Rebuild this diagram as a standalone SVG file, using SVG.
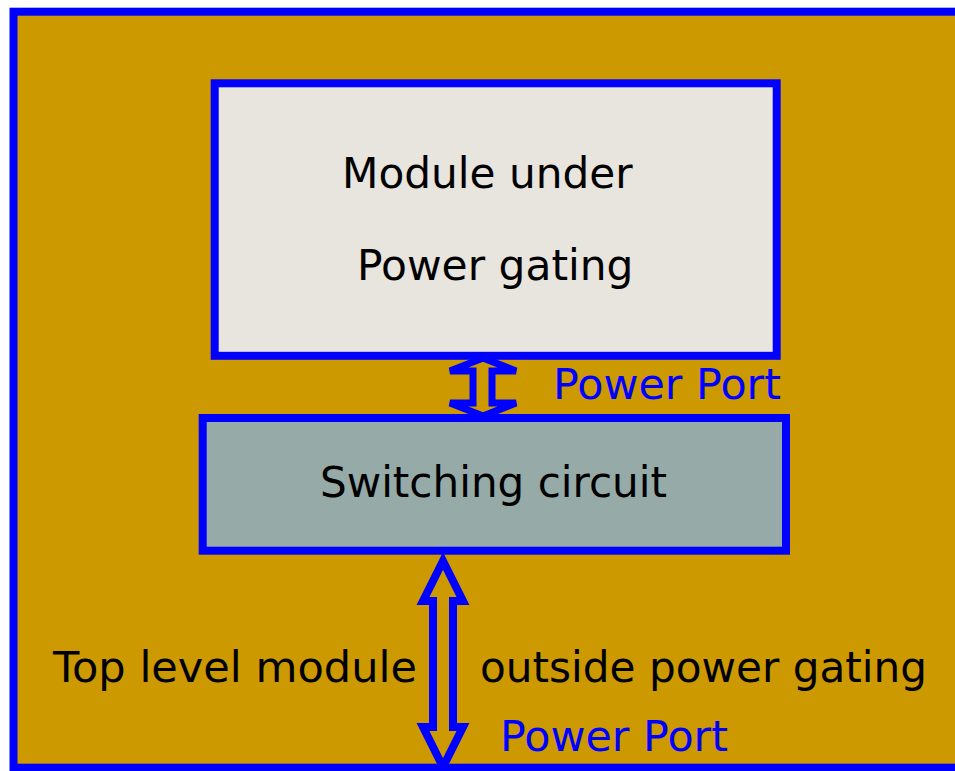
<svg xmlns="http://www.w3.org/2000/svg" width="955" height="771" viewBox="0 0 955 771">
<style>
.box{stroke:#0000FF;stroke-width:8}
.arrow{fill:#CC9900;stroke:#0000FF;stroke-linejoin:miter}
text{font-family:"DejaVu Sans","Verdana",sans-serif;font-size:42px;fill:#000000}
.port{fill:#0000FF}
</style>
<rect width="955" height="771" fill="#FFFFFF"/>
<g id="top-level">
<rect class="box" x="13.5" y="11.7" width="960" height="756" fill="#CC9900"/>
<text x="53" y="681.7" textLength="364" lengthAdjust="spacingAndGlyphs">Top level module</text>
<text x="480" y="681.7" textLength="447" lengthAdjust="spacingAndGlyphs">outside power gating</text>
</g>
<g id="module">
<rect class="box" x="214.7" y="83.3" width="562" height="272.5" fill="#E8E4DE"/>
<text x="342" y="188.3" textLength="290.5" lengthAdjust="spacingAndGlyphs">Module under</text>
<text x="357" y="280" textLength="276.5" lengthAdjust="spacingAndGlyphs">Power gating</text>
</g>
<g id="switching">
<rect class="box" x="202.7" y="418" width="583.3" height="132.7" fill="#96AAA8"/>
<text x="320" y="497" textLength="347" lengthAdjust="spacingAndGlyphs">Switching circuit</text>
</g>
<g id="connectors">
<polygon class="arrow" stroke-width="7" points="483,358 516,371 492,371 492,403 516,403 483,416 450,403 473,403 473,371 450,371"/>
<polygon class="arrow" stroke-width="8" points="443,561 463,601 453,601 453,727 463,727 443,767 423,727 433,727 433,601 423,601"/>
<text class="port" x="553" y="398.5" textLength="228" lengthAdjust="spacingAndGlyphs">Power Port</text>
<text class="port" x="500" y="751" textLength="228" lengthAdjust="spacingAndGlyphs">Power Port</text>
</g>
</svg>
